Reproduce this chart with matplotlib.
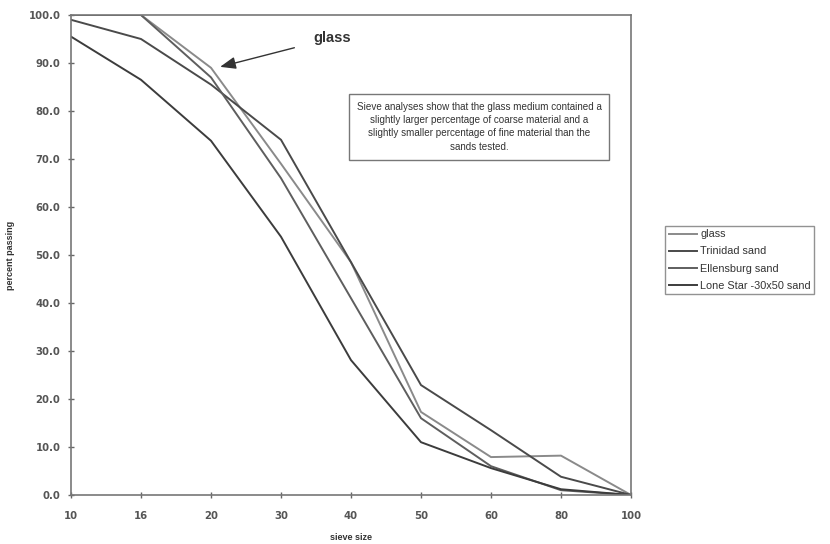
import matplotlib
matplotlib.use("Agg")
import matplotlib.pyplot as plt
import numpy as np

plt.rcParams['font.family'] = ['Liberation Sans', 'DejaVu Sans']

# sieve sizes (evenly spaced categories)
sieve = ["10", "16", "20", "30", "40", "50", "60", "80", "100"]

glass = [100.0, 100.0, 89.0, 69.0, 48.5, 17.3, 7.9, 8.2, 0.0]
trinidad = [99.0, 95.0, 85.5, 74.0, 48.5, 22.9, 13.5, 3.8, 0.0]
ellensburg = [100.0, 100.0, 87.0, 66.0, 41.0, 16.0, 6.0, 1.0, 0.0]
lonestar = [95.5, 86.5, 73.8, 53.8, 28.1, 11.0, 5.6, 1.2, 0.0]

names = ["glass", "Trinidad sand", "Ellensburg sand", "Lone Star -30x50 sand"]
colors = ["#8a8a8a", "#4a4a4a", "#5e5e5e", "#3c3c3c"]

fig = plt.figure(figsize=(8.30, 5.44), dpi=100)
ax = fig.add_axes([71/830, 49/544, 560/830, 480/544])

x = np.arange(len(sieve))
for vals, nm, c in zip([glass, trinidad, ellensburg, lonestar], names, colors):
    ax.plot(x, vals, color=c, lw=1.4, label=nm)

ax.set_xlim(0, len(sieve) - 1)
ax.set_ylim(0, 100)
ax.set_xticks(x)
ax.set_xticklabels(sieve)
ax.set_yticks(np.arange(0, 101, 10))
ax.set_yticklabels(["%.1f" % v for v in np.arange(0, 101, 10)])
ax.tick_params(direction="inout", length=5, width=1, color="#666666",
               labelsize=7.3, labelcolor="#555555")
ax.tick_params(axis="x", pad=9)
ax.tick_params(axis="y", pad=5)
for lab in ax.get_xticklabels() + ax.get_yticklabels():
    lab.set_fontweight("bold")
    lab.set_family("DejaVu Sans")
for s in ax.spines.values():
    s.set_color("#777777")
    s.set_linewidth(1.2)

ax.set_xlabel("sieve size", fontsize=6.5, fontweight="bold", color="#333333", labelpad=9)
ax.set_ylabel("percent passing", fontsize=6.5, fontweight="bold", color="#333333", labelpad=10)

ax.annotate("glass", xy=(2.13, 89.2), xytext=(3.73, 95.2),
            fontsize=10.5, fontweight="bold", color="#333333", ha="center", va="center",
            arrowprops=dict(arrowstyle="-|>,head_length=0.9,head_width=0.35",
                            color="#333333", lw=1, shrinkA=12, shrinkB=0))

ax.text(5.83, 76.7,
        "Sieve analyses show that the glass medium contained a\n"
        "slightly larger percentage of coarse material and a\n"
        "slightly smaller percentage of fine material than the\n"
        "sands tested.",
        ha="center", va="center", fontsize=7.1, color="#333333", linespacing=1.4,
        bbox=dict(boxstyle="square,pad=0.8", fc="white", ec="#777777", lw=1))

leg = fig.legend(loc="center left", bbox_to_anchor=(660/830, 1 - 260/544),
                 fontsize=7.8, frameon=True, fancybox=False, handlelength=2.6,
                 borderpad=0.3, labelspacing=0.65, handletextpad=0.3)
leg.get_frame().set_edgecolor("#777777")
for t in leg.get_texts():
    t.set_color("#333333")

fig.savefig("out.png", dpi=100)
